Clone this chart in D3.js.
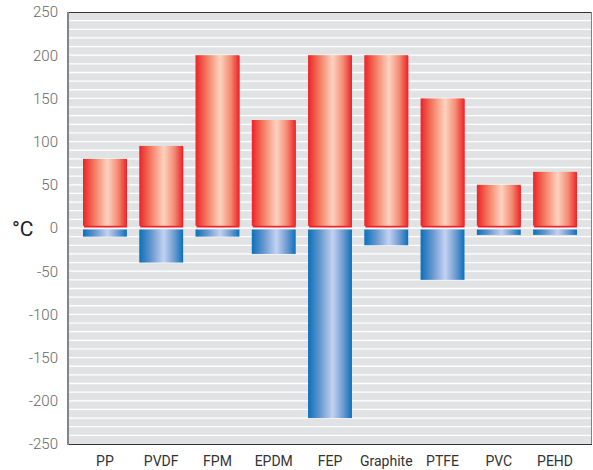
<!DOCTYPE html>
<html><head><meta charset="utf-8">
<script src="https://cdn.jsdelivr.net/npm/d3@7"></script>
<style>body{margin:0;background:#fff}svg{display:block}</style>
</head><body>
<svg id="c" width="593" height="470"></svg>
<script>
const categories = ["PP","PVDF","FPM","EPDM","FEP","Graphite","PTFE","PVC","PEHD"];
const maxTemp = [80,95,200,125,200,200,150,50,65];
const minTemp = [-10,-40,-10,-30,-220,-20,-60,-8,-8];
const yTicks = [250,200,150,100,50,0,-50,-100,-150,-200,-250];
const yUnit = "°C";

const svg = d3.select("#c");
const L=68, R=592, T=12, B=444;
const y = d3.scaleLinear().domain([-250,250]).range([B,T]);
const x = d3.scaleBand().domain(categories).range([83,577]).paddingInner(0.22).paddingOuter(0);

const defs = svg.append("defs");
function grad(id, stops){
  const g = defs.append("linearGradient").attr("id",id).attr("x1","0").attr("x2","1").attr("y1","0").attr("y2","0");
  stops.forEach(([o,c])=>g.append("stop").attr("offset",o).attr("stop-color",c));
}
grad("gr",[[0,"#ed2227"],[0.25,"#f3785e"],[0.56,"#fdd3c0"],[0.8,"#f48a72"],[1,"#ed2227"]]);
grad("gb",[[0,"#0a70bc"],[0.25,"#5f93cc"],[0.56,"#c3d2f2"],[0.8,"#6d9bd0"],[1,"#0a70bc"]]);

svg.append("rect").attr("x",L).attr("y",T).attr("width",R-L).attr("height",B-T).attr("fill","#e1e2e4");
const grid = d3.range(-240,250,10);
svg.append("g").selectAll("line").data(grid).join("line")
  .attr("x1",L).attr("x2",R).attr("y1",d=>y(d)).attr("y2",d=>y(d))
  .attr("stroke","#fff").attr("stroke-width",1.3);

const data = categories.map((c,i)=>({c,max:maxTemp[i],min:minTemp[i]}));
const g = svg.append("g");
g.selectAll(".rs").data(data).join("rect")
  .attr("x",d=>x(d.c)+1).attr("width",x.bandwidth()-1)
  .attr("y",d=>y(d.max)+1).attr("height",d=>y(0)-0.5-(y(d.max)+1))
  .attr("fill","#ed2227");
g.selectAll(".rb").data(data).join("rect")
  .attr("x",d=>x(d.c)).attr("width",x.bandwidth())
  .attr("y",d=>y(d.max)).attr("height",d=>y(0)-2.2-y(d.max))
  .attr("fill","url(#gr)");
g.selectAll(".bb").data(data).join("rect")
  .attr("x",d=>x(d.c)).attr("width",x.bandwidth())
  .attr("y",y(0)+1.5).attr("height",d=>y(d.min)-(y(0)+1.5))
  .attr("fill","url(#gb)");

svg.append("line").attr("x1",L).attr("x2",R).attr("y1",T+0.5).attr("y2",T+0.5).attr("stroke","#333").attr("stroke-width",1);
svg.append("line").attr("x1",L).attr("x2",R).attr("y1",B+0.5).attr("y2",B+0.5).attr("stroke","#333").attr("stroke-width",1);
svg.append("line").attr("x1",R-0.5).attr("x2",R-0.5).attr("y1",T).attr("y2",B).attr("stroke","#808080").attr("stroke-width",1);
svg.append("line").attr("x1",L).attr("x2",L).attr("y1",T).attr("y2",B+1).attr("stroke","#858585").attr("stroke-width",2);

svg.append("g").selectAll("text").data(yTicks).join("text")
  .attr("x",58).attr("y",d=>y(d)).attr("dy","0.36em").attr("text-anchor","end")
  .attr("font-family","Roboto, sans-serif").attr("font-weight",300).attr("font-size",15).attr("fill","#666")
  .text(d=>d<0? "-"+Math.abs(d) : d);

svg.append("g").selectAll("text").data(categories).join("text")
  .attr("x",d=>x(d)+x.bandwidth()/2).attr("y",466).attr("text-anchor","middle")
  .attr("font-family","Roboto, sans-serif").attr("font-size",14).attr("fill","#333")
  .text(d=>d);

svg.append("text").attr("x",12).attr("y",y(0)).attr("dy","0.36em")
  .attr("font-family","Roboto, sans-serif").attr("font-size",21).attr("fill","#222").text(yUnit);
</script>
</body></html>
